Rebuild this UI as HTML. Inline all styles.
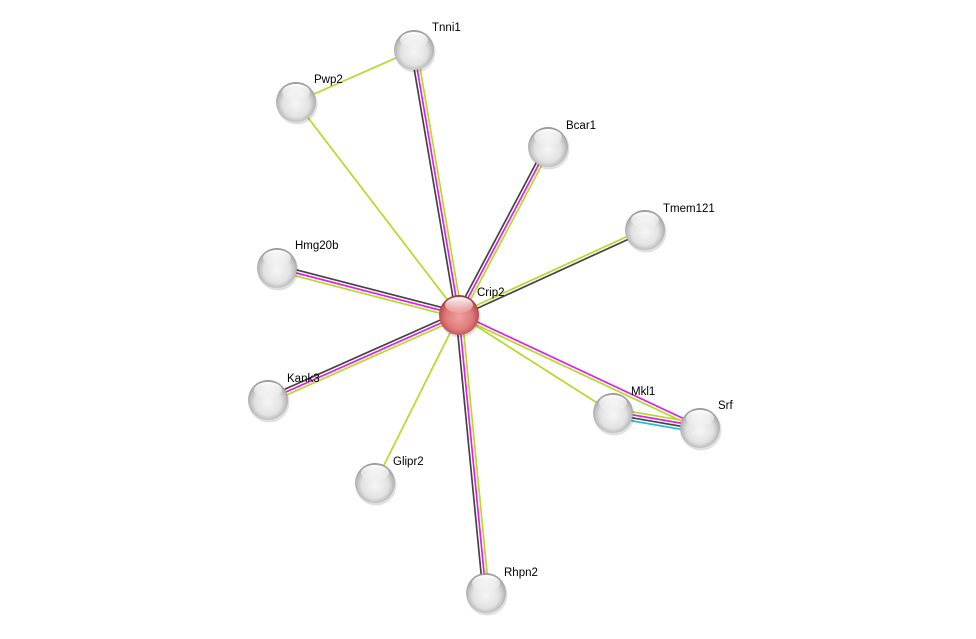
<!DOCTYPE html>
<html><head><meta charset="utf-8"><style>
html,body{margin:0;padding:0;background:#fff;width:976px;height:639px;overflow:hidden}
svg text{font-family:"Liberation Sans",sans-serif;font-size:11.5px;fill:#000}
</style></head><body>
<svg id="s" width="976" height="639" xmlns="http://www.w3.org/2000/svg">
<defs>
<radialGradient id="g" cx="50%" cy="55%" r="55%">
<stop offset="0%" stop-color="#f6f6f6"/><stop offset="60%" stop-color="#e2e2e2"/><stop offset="88%" stop-color="#b4b4b4"/><stop offset="100%" stop-color="#8e8e8e"/></radialGradient>
<radialGradient id="r" cx="50%" cy="55%" r="55%">
<stop offset="0%" stop-color="#f0a0a0"/><stop offset="60%" stop-color="#df7a7a"/><stop offset="88%" stop-color="#bf5050"/><stop offset="100%" stop-color="#903030"/></radialGradient>
<linearGradient id="h" x1="0" y1="0" x2="0" y2="1"><stop offset="0" stop-color="#fff" stop-opacity="1"/><stop offset="1" stop-color="#fff" stop-opacity="0.1"/></linearGradient>
</defs>
<g id="edges"></g>
<g id="nodes"></g>
<g>
<text x="432" y="31">Tnni1</text>
<text x="314" y="83">Pwp2</text>
<text x="566" y="129">Bcar1</text>
<text x="663" y="212">Tmem121</text>
<text x="295" y="249">Hmg20b</text>
<text x="477" y="296">Crip2</text>
<text x="287" y="382">Kank3</text>
<text x="393" y="465">Glipr2</text>
<text x="504" y="576">Rhpn2</text>
<text x="631" y="395">Mkl1</text>
<text x="718" y="409">Srf</text>
</g>
</svg>
<script>
var N={Crip2:[459,315],Tnni1:[414,50],Pwp2:[296,102],Bcar1:[548,147],Tmem121:[645,230],Hmg20b:[277,268],Kank3:[268,400],Glipr2:[375,483],Rhpn2:[486,593],Mkl1:[613,413],Srf:[700,428]};
var K="#444",M="#e020e0",G="#b8d828",C="#20b8e0";
var E=[["Crip2","Tnni1",[K,M,G]],["Crip2","Bcar1",[K,M,G]],["Crip2","Hmg20b",[G,M,K]],["Crip2","Kank3",[G,M,K]],["Crip2","Rhpn2",[G,M,K]],
["Crip2","Tmem121",[G,K]],["Crip2","Srf",[M,G]],["Crip2","Pwp2",[G]],["Crip2","Glipr2",[G]],["Crip2","Mkl1",[G]],["Pwp2","Tnni1",[G]],["Mkl1","Srf",[G,M,K,C]]];
var ns="http://www.w3.org/2000/svg",eg=document.getElementById("edges"),ng=document.getElementById("nodes");
E.forEach(function(e){var a=N[e[0]],b=N[e[1]],dx=b[0]-a[0],dy=b[1]-a[1],L=Math.hypot(dx,dy),px=-dy/L,py=dx/L,n=e[2].length;
e[2].forEach(function(c,i){var o=(i-(n-1)/2)*3;var l=document.createElementNS(ns,"line");
l.setAttribute("x1",a[0]+px*o);l.setAttribute("y1",a[1]+py*o);l.setAttribute("x2",b[0]+px*o);l.setAttribute("y2",b[1]+py*o);
l.setAttribute("stroke",c);l.setAttribute("stroke-width","1.7");eg.appendChild(l);});});
for(var k in N){var p=N[k],red=k=="Crip2";
var sh=document.createElementNS(ns,"circle");sh.setAttribute("cx",p[0]+1);sh.setAttribute("cy",p[1]+2);sh.setAttribute("r",20.5);sh.setAttribute("fill","#000");sh.setAttribute("opacity",".12");ng.appendChild(sh);
var c=document.createElementNS(ns,"circle");c.setAttribute("cx",p[0]);c.setAttribute("cy",p[1]);c.setAttribute("r",20);c.setAttribute("fill",red?"url(#r)":"url(#g)");ng.appendChild(c);
var h=document.createElementNS(ns,"ellipse");h.setAttribute("cx",p[0]);h.setAttribute("cy",p[1]-10);h.setAttribute("rx",14);h.setAttribute("ry",8);h.setAttribute("fill","url(#h)");ng.appendChild(h);}
</script>
</body></html>
